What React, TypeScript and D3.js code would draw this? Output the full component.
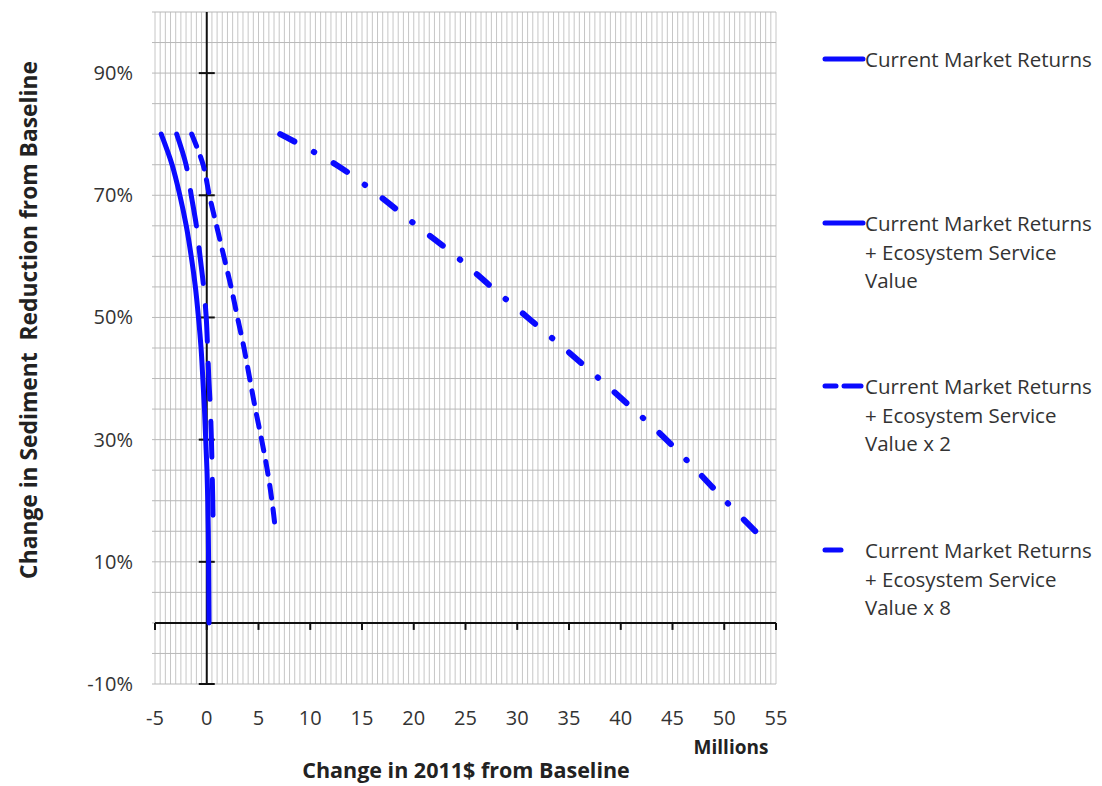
import React from "react";
import * as d3 from "d3";

// Sediment reduction levels (%) at which each curve was read
const sedimentLevels = [80, 75, 70, 65, 60, 55, 50, 45, 40, 35, 30, 25, 20, 15];
const sedimentLevelsMarket = [80, 75, 70, 65, 60, 55, 50, 45, 40, 35, 30, 25, 20, 15, 10, 5, 0];

// Change in 2011$ from baseline (millions) for each series
const marketReturns = [-4.4, -3.35, -2.6, -1.98, -1.5, -1.1, -0.8, -0.55, -0.38, -0.22, -0.1, 0.02, 0.1, 0.15, 0.18, 0.2, 0.22];
const ecoValue = [-2.9, -2.0, -1.5, -1.0, -0.65, -0.3, -0.05, 0.08, 0.2, 0.35, 0.45, 0.52, 0.58, 0.62];
const ecoValueX2 = [-1.45, -0.35, 0.25, 0.95, 1.65, 2.35, 2.97, 3.6, 4.15, 4.7, 5.3, 5.85, 6.3, 6.65];
const ecoValueX8 = [7.1, 12.5, 16.6, 20.3, 24.1, 27.5, 31.0, 34.5, 37.9, 41.2, 44.4, 47.3, 50.1, 53.0];

const xTicks = [-5, 0, 5, 10, 15, 20, 25, 30, 35, 40, 45, 50, 55];
const yTicks = [90, 70, 50, 30, 10, -10];

const legendLabels = [
  ["Current Market Returns"],
  ["Current Market Returns", "+ Ecosystem Service", "Value"],
  ["Current Market Returns", "+ Ecosystem Service", "Value x 2"],
  ["Current Market Returns", "+ Ecosystem Service", "Value x 8"],
];

const BLUE = "#0a0aff";
const FONT = "'Open Sans', 'DejaVu Sans', sans-serif";

const seriesStyles = [
  { dash: "none", width: 5 },
  { dash: "36 22", width: 5 },
  { dash: "13 11", width: 5 },
  { dash: "16 22 0.5 22", width: 6 },
];

export default function App() {
  const x = d3.scaleLinear().domain([-5, 55]).range([155, 776]);
  const y = d3.scaleLinear().domain([-10, 100]).range([684, 12]);

  const series = [
    marketReturns.map((v, i) => [v, sedimentLevelsMarket[i]] as [number, number]),
    ecoValue.map((v, i) => [v, sedimentLevels[i]] as [number, number]),
    ecoValueX2.map((v, i) => [v, sedimentLevels[i]] as [number, number]),
    ecoValueX8.map((v, i) => [v, sedimentLevels[i]] as [number, number]),
  ];

  const line = d3
    .line<[number, number]>()
    .x((d) => x(d[0]))
    .y((d) => y(d[1]))
    .curve(d3.curveCatmullRom.alpha(0.5));

  const vGrid = d3.range(-5, 55.001, 0.5);
  const hGrid = d3.range(-10, 100.001, 5);

  const legendY = [60, 224, 387, 551];
  const lineH = 28.5;

  return (
    <svg
      width={1102}
      height={786}
      style={{ position: "absolute", left: 0, top: 0, display: "block", background: "#fff" }}
      fontFamily={FONT}
    >
      {/* grid */}
      <g>
        {vGrid.map((g, i) => (
          <line key={"v" + i} x1={x(g)} x2={x(g)} y1={y(100)} y2={y(-10)} stroke="#c6c6c6" strokeWidth={1} />
        ))}
        {hGrid.map((g, i) => (
          <line key={"h" + i} x1={x(-5) - 3} x2={x(55)} y1={y(g)} y2={y(g)} stroke="#b8b8b8" strokeWidth={1} />
        ))}
      </g>

      {/* axes */}
      <line x1={x(-5)} x2={x(55)} y1={y(0)} y2={y(0)} stroke="#111" strokeWidth={2} />
      <line x1={x(0)} x2={x(0)} y1={y(100)} y2={y(-10)} stroke="#111" strokeWidth={2} />
      {xTicks.map((t) => (
        <line key={"xt" + t} x1={x(t)} x2={x(t)} y1={y(0)} y2={y(0) + 7} stroke="#111" strokeWidth={2} />
      ))}
      {yTicks.map((t) => (
        <line key={"yt" + t} x1={x(0) - 8} x2={x(0) + 8} y1={y(t)} y2={y(t)} stroke="#111" strokeWidth={2} />
      ))}

      {/* series */}
      {series.map((s, i) => (
        <path
          key={"s" + i}
          d={line(s) || ""}
          fill="none"
          stroke={BLUE}
          strokeWidth={seriesStyles[i].width}
          strokeDasharray={seriesStyles[i].dash}
          strokeLinecap="round"
          strokeLinejoin="round"
        />
      ))}

      {/* tick labels */}
      {yTicks.map((t) => (
        <text key={"yl" + t} x={133} y={y(t)} dy="0.35em" textAnchor="end" fontSize={20} fill="#333">
          {t + "%"}
        </text>
      ))}
      {xTicks.map((t) => (
        <text key={"xl" + t} x={x(t)} y={718} dy="0.35em" textAnchor="middle" fontSize={20} fill="#333">
          {t}
        </text>
      ))}

      {/* axis titles */}
      <text x={731} y={747} dy="0.35em" textAnchor="middle" fontSize={19} fontWeight="bold" fill="#222">
        Millions
      </text>
      <text x={466} y={770} dy="0.35em" textAnchor="middle" fontSize={21.5} fontWeight="bold" fill="#222">
        Change in 2011$ from Baseline
      </text>
      <text
        transform={`translate(29,320) rotate(-90)`}
        dy="0.35em"
        textAnchor="middle"
        fontSize={22.8}
        fontWeight="bold"
        fill="#222"
        style={{ whiteSpace: "pre" }}
      >
        {"Change in Sediment  Reduction from Baseline"}
      </text>

      {/* legend */}
      {legendLabels.map((lines, i) => {
        const cy = legendY[i];
        const st = seriesStyles[i];
        return (
          <g key={"lg" + i}>
            {i === 3 ? (
              <line x1={825} x2={841} y1={cy - 1} y2={cy - 1} stroke={BLUE} strokeWidth={5} strokeLinecap="round" />
            ) : i === 2 ? (
              <g>
                <line x1={825} x2={836} y1={cy - 1} y2={cy - 1} stroke={BLUE} strokeWidth={5} strokeLinecap="round" />
                <line x1={844} x2={861} y1={cy - 1} y2={cy - 1} stroke={BLUE} strokeWidth={5} strokeLinecap="round" />
              </g>
            ) : (
              <line x1={825} x2={863} y1={cy - 1} y2={cy - 1} stroke={BLUE} strokeWidth={st.width} strokeLinecap="round" />
            )}
            {lines.map((l, j) => (
              <text key={j} x={865} y={cy + j * lineH} dy="0.35em" fontSize={20.5} fill="#333">
                {l}
              </text>
            ))}
          </g>
        );
      })}
    </svg>
  );
}
